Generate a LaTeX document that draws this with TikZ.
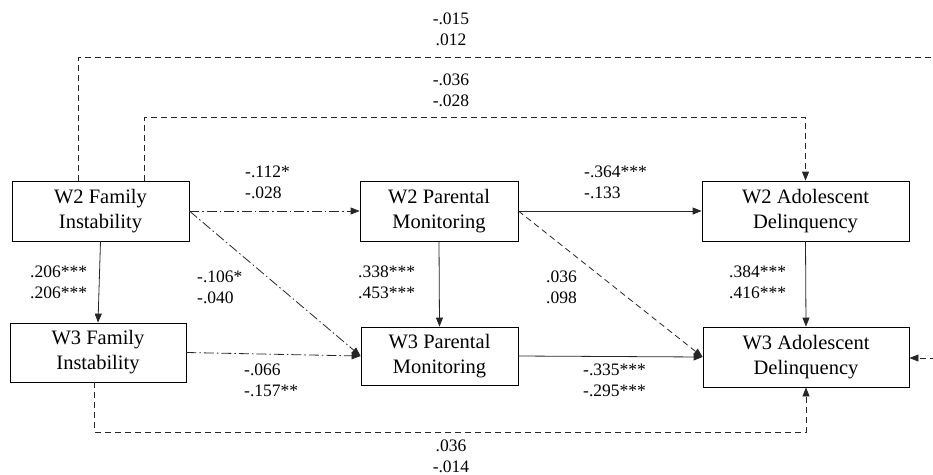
\documentclass[tikz,border=0pt]{standalone}
\usepackage{fontspec}
\setmainfont{Liberation Serif}
\newfontfamily\tnr{Liberation Serif}
\usetikzlibrary{arrows.meta,calc}
\newcommand{\boxfont}{\tnr\fontsize{20.5}{25}\selectfont}
\newcommand{\labfont}{\tnr\fontsize{17.5}{21}\selectfont}
\begin{document}
\begin{tikzpicture}[x=1pt,y=-1pt,
  box/.style={draw, line width=0.8pt, minimum width=#1, minimum height=60pt, align=center, font=\boxfont, inner sep=0pt},
  lab/.style={font=\labfont, align=left, inner sep=0pt, anchor=west},
  clab/.style={font=\labfont, align=center, inner sep=0pt},
  conn/.style={line width=0.8pt, draw=black!85, -{Triangle[length=9pt,width=7pt]}},
  dd/.style={dash pattern=on 10pt off 3pt on 1.5pt off 3pt},
  ds/.style={dash pattern=on 6pt off 4pt}]
\useasboundingbox (0,0) rectangle (933,474);
\clip (0,0) rectangle (933,474);
% boxes
\node[box=177pt] (fi2) at (100.5,211) {W2 Family\\Instability};
\node[box=176pt, minimum height=59pt] (fi3) at (98,352.5) {W3 Family\\Instability};
\node[box=158pt] (pm2) at (439,211) {W2 Parental\\Monitoring};
\node[box=157pt, minimum height=58pt] (pm3) at (439.5,356) {W3 Parental\\Monitoring};
\node[box=207pt] (ad2) at (805.5,211) {W2 Adolescent\\Delinquency};
\node[box=206pt] (ad3) at (806,357) {W3 Adolescent\\Delinquency};
% helper coordinates
\coordinate (fiTopA) at ($(fi2.north west)+(67,0)$);
\coordinate (fiTopB) at ($(fi2.north west)+(133,0)$);
\coordinate (fiBot) at ($(fi3.south west)+(85,0)$);
% connectors
\draw[conn] (fi2.south) -- (fi3.north);
\draw[conn] (pm2.south) -- (pm3.north);
\draw[conn] (ad2.south) -- (ad3.north);
\draw[conn,dd] (fi2.east) -- (pm2.west);
\draw[conn,dd] (fi2.east) -- (pm3.west);
\draw[conn,dd] (fi3.east) -- (pm3.west);
\draw[conn] (pm2.east) -- (ad2.west);
\draw[conn,ds] (pm2.east) -- (ad3.west);
\draw[conn] (pm3.east) -- (ad3.west);
\draw[conn,ds] (fiTopA) -- (fiTopA |- 0,57) -- (945,57) -- (945,358) -- (ad3.east |- 0,358);
\draw[conn,ds] (fiTopB) -- (fiTopB |- 0,117) -- (ad2.north |- 0,117) -- (ad2.north);
\draw[conn,ds] (fiBot) -- (fiBot |- 0,432) -- (ad3.south |- 0,432) -- (ad3.south);
% labels
\node[clab] at (451,29) {-.015\\.012};
\node[clab] at (451,90.5) {-.036\\-.028};
\node[lab] at (245,182.5) {-.112*\\-.028};
\node[lab] at (584,182.5) {-.364***\\-.133};
\node[lab] at (30,282) {.206***\\.206***};
\node[lab] at (197,287.5) {-.106*\\-.040};
\node[lab] at (358,282) {.338***\\.453***};
\node[lab] at (546,287.5) {.036\\.098};
\node[lab] at (729,282) {.384***\\.416***};
\node[lab] at (244,380) {-.066\\-.157**};
\node[lab] at (583,380) {-.335***\\-.295***};
\node[clab] at (451,456) {.036\\-.014};
\end{tikzpicture}
\end{document}
